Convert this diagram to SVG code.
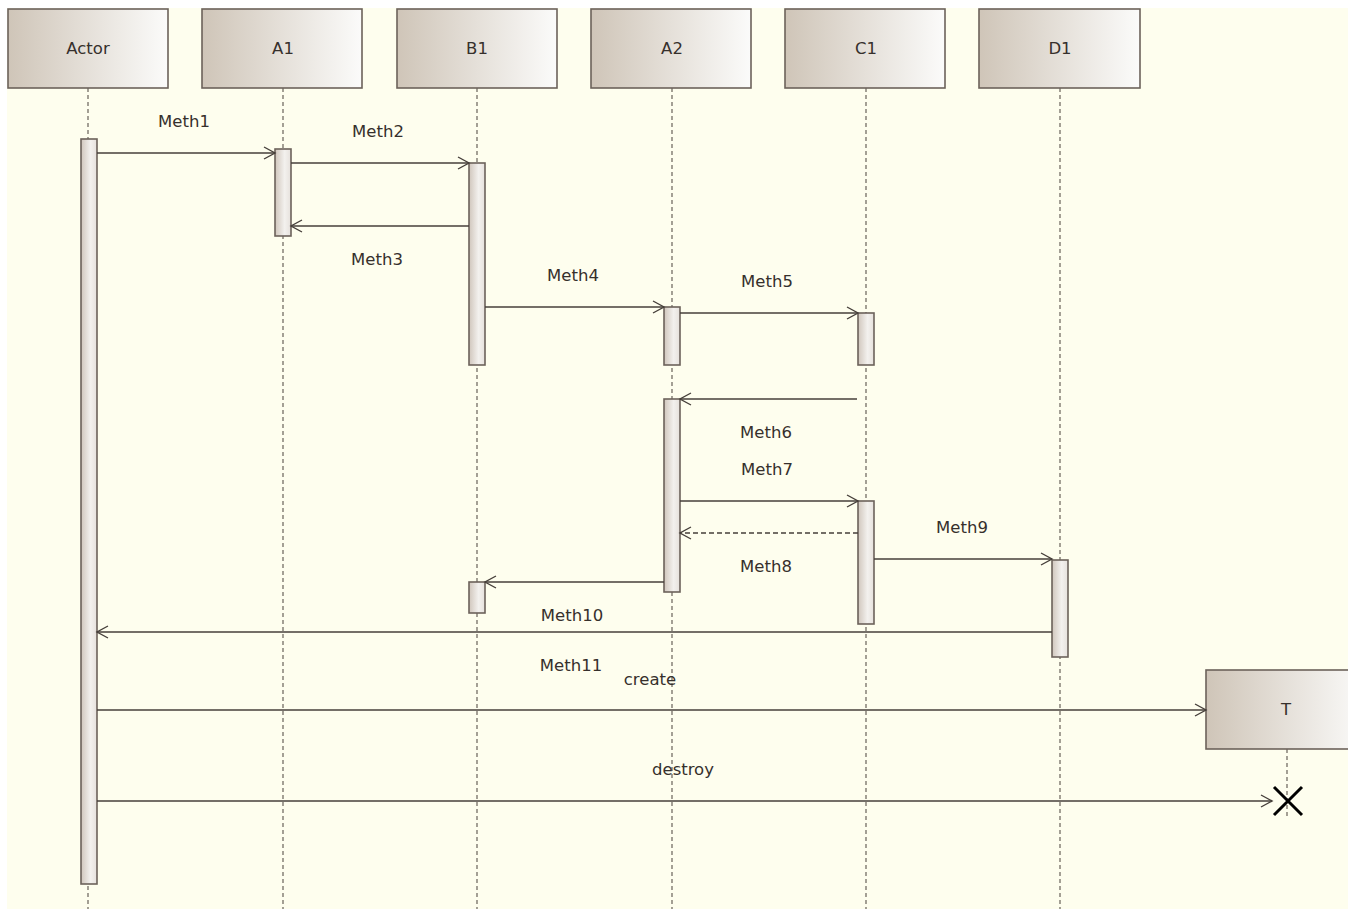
<svg xmlns="http://www.w3.org/2000/svg" width="1348" height="909" viewBox="0 0 1348 909">
<style>
.head{stroke:#6c625a;stroke-width:1.6;fill:url(#hg)}
.act{stroke:#6c625a;stroke-width:1.6;fill:url(#ag)}
.life{stroke:#5a524c;stroke-width:1.1;stroke-dasharray:4,3;fill:none}
.msg{stroke:#463f3a;stroke-width:1.6;fill:none;marker-end:url(#arr)}
.ret{stroke:#463f3a;stroke-width:1.6;fill:none;stroke-dasharray:5,3;marker-end:url(#arr)}
text{font-family:"DejaVu Sans","Liberation Sans",sans-serif;font-size:16.5px;fill:#36302c;text-anchor:middle}
</style>
<defs>
<linearGradient id="hg" x1="0" y1="0" x2="1" y2="0">
<stop offset="0" stop-color="#cfc5b8"/>
<stop offset="1" stop-color="#fbfbfa"/>
</linearGradient>
<linearGradient id="ag" x1="0" y1="0" x2="1" y2="0">
<stop offset="0" stop-color="#d0c6bc"/>
<stop offset="0.6" stop-color="#f3f1ee"/>
<stop offset="1" stop-color="#e6e1dc"/>
</linearGradient>
<marker id="arr" markerUnits="userSpaceOnUse" markerWidth="14" markerHeight="14" viewBox="-12 -7 14 14" refX="0" refY="0" orient="auto">
<path d="M-11,-6 L0,0 L-11,6" fill="none" stroke="#463f3a" stroke-width="1.4"/>
</marker>
</defs>
<rect x="0" y="0" width="1348" height="909" fill="#ffffff"/>
<rect x="7" y="8" width="1341" height="901" fill="#fefeee"/>

<g id="lifelines">
<line class="life" x1="88" y1="88" x2="88" y2="909"/>
<line class="life" x1="283" y1="88" x2="283" y2="909"/>
<line class="life" x1="477" y1="88" x2="477" y2="909"/>
<line class="life" x1="672" y1="88" x2="672" y2="909"/>
<line class="life" x1="866" y1="88" x2="866" y2="909"/>
<line class="life" x1="1060" y1="88" x2="1060" y2="909"/>
<line class="life" x1="1287" y1="749" x2="1287" y2="816"/>
</g>

<g id="Actor"><rect class="head" x="8" y="9" width="160" height="79"/><text x="88" y="54">Actor</text>
<rect class="act" x="81" y="139" width="16" height="745"/></g>
<g id="A1"><rect class="head" x="202" y="9" width="160" height="79"/><text x="283" y="54">A1</text>
<rect class="act" x="275" y="149" width="16" height="87"/></g>
<g id="B1"><rect class="head" x="397" y="9" width="160" height="79"/><text x="477" y="54">B1</text>
<rect class="act" x="469" y="163" width="16" height="202"/>
<rect class="act" x="469" y="582" width="16" height="31"/></g>
<g id="A2"><rect class="head" x="591" y="9" width="160" height="79"/><text x="672" y="54">A2</text>
<rect class="act" x="664" y="307" width="16" height="58"/>
<rect class="act" x="664" y="399" width="16" height="193"/></g>
<g id="C1"><rect class="head" x="785" y="9" width="160" height="79"/><text x="866" y="54">C1</text>
<rect class="act" x="858" y="313" width="16" height="52"/>
<rect class="act" x="858" y="501" width="16" height="123"/></g>
<g id="D1"><rect class="head" x="979" y="9" width="161" height="79"/><text x="1060" y="54">D1</text>
<rect class="act" x="1052" y="560" width="16" height="97"/></g>
<g id="T"><rect class="head" x="1206" y="670" width="160" height="79"/><text x="1286" y="715">T</text>
<path d="M1274,787 L1302,815 M1302,787 L1274,815" stroke="#000" stroke-width="3" fill="none"/></g>

<g id="connectors">
<line class="msg" x1="97" y1="153" x2="275" y2="153"/>
<line class="msg" x1="291" y1="163" x2="469" y2="163"/>
<line class="msg" x1="469" y1="226" x2="291" y2="226"/>
<line class="msg" x1="485" y1="307" x2="664" y2="307"/>
<line class="msg" x1="680" y1="313" x2="858" y2="313"/>
<line class="msg" x1="857" y1="399" x2="680" y2="399"/>
<line class="msg" x1="680" y1="501" x2="858" y2="501"/>
<line class="ret" x1="858" y1="533" x2="680" y2="533"/>
<line class="msg" x1="874" y1="559" x2="1052" y2="559"/>
<line class="msg" x1="664" y1="582" x2="485" y2="582"/>
<line class="msg" x1="1052" y1="632" x2="97" y2="632"/>
<line class="msg" x1="97" y1="710" x2="1206" y2="710"/>
<line class="msg" x1="97" y1="801" x2="1272" y2="801"/>
</g>

<g id="labels">
<text x="184" y="127">Meth1</text>
<text x="378" y="137">Meth2</text>
<text x="377" y="265">Meth3</text>
<text x="573" y="281">Meth4</text>
<text x="767" y="287">Meth5</text>
<text x="766" y="438">Meth6</text>
<text x="767" y="475">Meth7</text>
<text x="766" y="572">Meth8</text>
<text x="962" y="533">Meth9</text>
<text x="572" y="621">Meth10</text>
<text x="571" y="671">Meth11</text>
<text x="650" y="685">create</text>
<text x="683" y="775">destroy</text>
</g>
</svg>
